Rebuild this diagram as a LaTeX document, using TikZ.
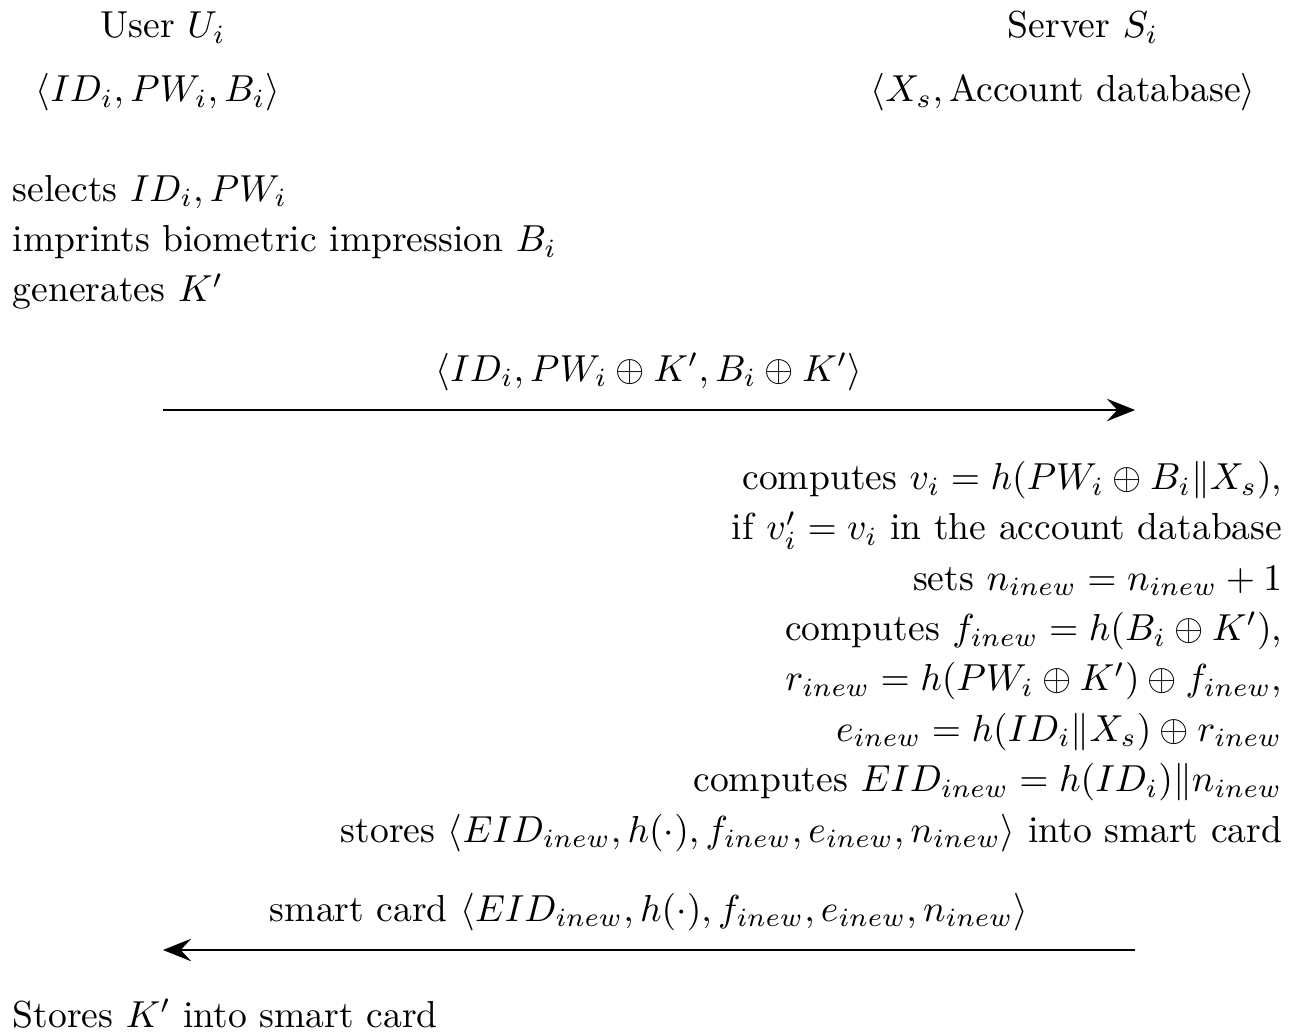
\documentclass[tikz,border=0pt]{standalone}
\usepackage{amssymb}
\usepackage{amsmath}
\usepackage{tikz}
\usetikzlibrary{positioning, arrows.meta}

\begin{document}
\begin{tikzpicture}[x=0.266pt, y=-0.266pt,
    party/.style={inner sep=0pt, anchor=base},
    steps/.style={inner sep=0pt, font=\fontsize{10}{13.4}\selectfont},
    msg/.style={-{Stealth[length=7.5pt, width=6pt, inset=2.8pt]}, semithick}]
    \useasboundingbox (0,0) rectangle (1303,1032);

    % parties
    \node[party] (user) at (163,38) {User $U_i$};
    \node[party] (userdata) at (158,102) {$\langle ID_i, PW_i, B_i\rangle$};
    \node[party] (server) at (1083,38) {Server $S_i$};
    \node[party] (serverdata) at (1063,102) {$\langle X_s, \text{Account database}\rangle$};

    % registration on the user side
    \node[steps, anchor=base west, align=left] (ustep) at (12,302)
      {selects $ID_i, PW_i$\\
       imprints biometric impression $B_i$\\
       generates $K'$};

    \coordinate (u1) at (163,410);
    \coordinate (s1) at (1135,410);
    \draw[msg] (u1) -- node[above=1.5pt] (m1)
      {$\langle ID_i, PW_i\oplus K', B_i\oplus K'\rangle$} (s1);

    % server side
    \node[steps, anchor=base east, align=right] (sstep) at (1283,842)
      {computes $v_i=h(PW_i\oplus B_i\|X_s)$,\\
       if $v_i'=v_i$ in the account database\\
       sets $n_{inew}=n_{inew}+1$\\
       computes $f_{inew}=h(B_i\oplus K')$,\\
       $r_{inew}=h(PW_i\oplus K')\oplus f_{inew}$,\\
       $e_{inew}=h(ID_i\|X_s)\oplus r_{inew}$\\
       computes $EID_{inew}=h(ID_i)\|n_{inew}$\\
       stores $\langle EID_{inew}, h(\cdot), f_{inew}, e_{inew}, n_{inew}\rangle$ into smart card};

    \coordinate (s2) at (1135,950);
    \coordinate (u2) at (163,950);
    \draw[msg] (s2) -- node[above=1.5pt] (m2)
      {smart card $\langle EID_{inew}, h(\cdot), f_{inew}, e_{inew}, n_{inew}\rangle$} (u2);

    \node[steps, anchor=base west] (ustore) at (12,1027) {Stores $K'$ into smart card};
\end{tikzpicture}
\end{document}
